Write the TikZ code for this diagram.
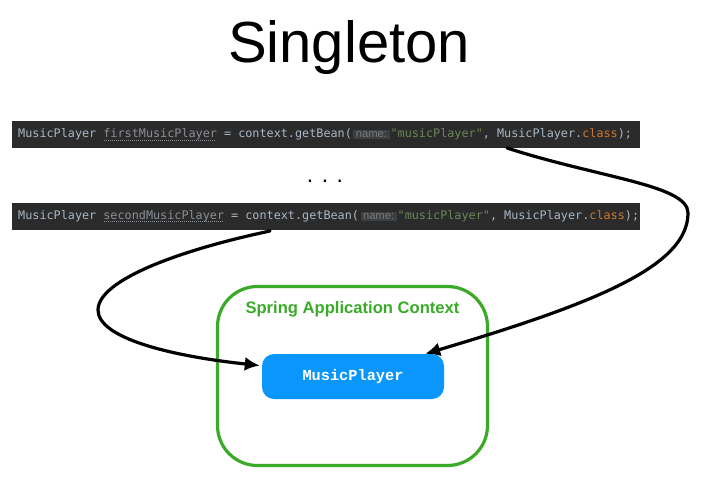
\documentclass[tikz,border=0pt]{standalone}
\usepackage{fontspec}
\setmainfont{Liberation Sans}
\setmonofont{DejaVu Sans Mono}
\newfontfamily\beanfont{Liberation Mono}
\usetikzlibrary{arrows.meta}
\definecolor{codebg}{HTML}{2B2B2B}
\definecolor{codefg}{HTML}{A9B7C6}
\definecolor{codestr}{HTML}{6A8759}
\definecolor{codekw}{HTML}{CC7832}
\definecolor{codevar}{HTML}{8A8F96}
\definecolor{hintbg}{HTML}{3C3F41}
\definecolor{hintfg}{HTML}{7A7A7A}
\definecolor{ctxgreen}{RGB}{58,170,40}
\definecolor{beanblue}{RGB}{10,150,250}
\newlength{\varwd}
\newcommand{\tsp}{\hbox to 7.05pt{}}
\newcommand{\hintname}[1]{{\setlength{\fboxsep}{1.5pt}\colorbox{hintbg}{\hspace{1pt}\rmfamily\fontsize{11.2}{12}\selectfont\color{hintfg}#1\hspace{1pt}}}}
\newcommand{\unusedvar}[1]{\settowidth{\varwd}{#1}\rlap{\raisebox{-2.6pt}[0pt][0pt]{\color{codevar}\leaders\hbox to 2pt{\hss\rule{0.9pt}{0.7pt}\hss}\hskip\varwd}}{\color{codevar}#1}}
\begin{document}
\begin{tikzpicture}[line cap=round, line join=round, x=1pt, y=-1pt,
    codebar/.style={fill=codebg, text=codefg, anchor=west, minimum height=27pt,
        text width=616pt, inner xsep=6pt, inner ysep=0pt, align=left,
        font=\ttfamily\fontsize{11.8}{14}\selectfont},
    callarrow/.style={line width=3.2pt, -{Latex[length=15pt,width=14pt]}}]
    \useasboundingbox[fill=white] (0,0) rectangle (707,498);
    \node (title) [anchor=base, font=\fontsize{58}{60}\selectfont] at (349,62) {Singleton};
    \node (firstcall) [codebar] at (12,134.5) {MusicPlayer\tsp\unusedvar{firstMusicPlayer}\tsp=\tsp context.getBean(\hspace{1.5pt}\hintname{name:}\hspace{1pt}{\color{codestr}"musicPlayer"},\tsp MusicPlayer.{\color{codekw}class});};
    \node (dots) [anchor=base, font=\fontsize{23}{24}\selectfont] at (325,182) {. . .};
    \node (secondcall) [codebar] at (12,216) {MusicPlayer\tsp\unusedvar{secondMusicPlayer}\tsp=\tsp context.getBean(\hspace{1.5pt}\hintname{name:}\hspace{1pt}{\color{codestr}"musicPlayer"},\tsp MusicPlayer.{\color{codekw}class});};
    % application context with its single bean
    \node (ctx) [draw=ctxgreen, line width=3.2pt, rounded corners=40pt,
        minimum width=270pt, minimum height=179pt] at (352.5,376) {};
    \node (ctxlabel) [anchor=base, text=ctxgreen, font=\bfseries\fontsize{16.6}{18}\selectfont] at (352.5,313.5) {Spring Application Context};
    \node (mp) [fill=beanblue, rounded corners=12pt, minimum width=182pt, minimum height=45pt,
        text=white, font=\beanfont\bfseries\fontsize{15.3}{16}\selectfont] at (353,376.5) {MusicPlayer};
    % both calls return the same bean
    \coordinate (firstout) at (507,148);
    \coordinate (secondout) at (270,231);
    \draw[callarrow] (firstout) .. controls (600,178) and (688,185) .. (688,213)
        .. controls (688,265) and (600,302) .. ([xshift=-19pt]mp.north east);
    \draw[callarrow] (secondout) .. controls (180,250) and (98,280) .. (98,310)
        .. controls (98,338) and (170,356) .. ([xshift=-2pt,yshift=11pt]mp.west);
\end{tikzpicture}
\end{document}
